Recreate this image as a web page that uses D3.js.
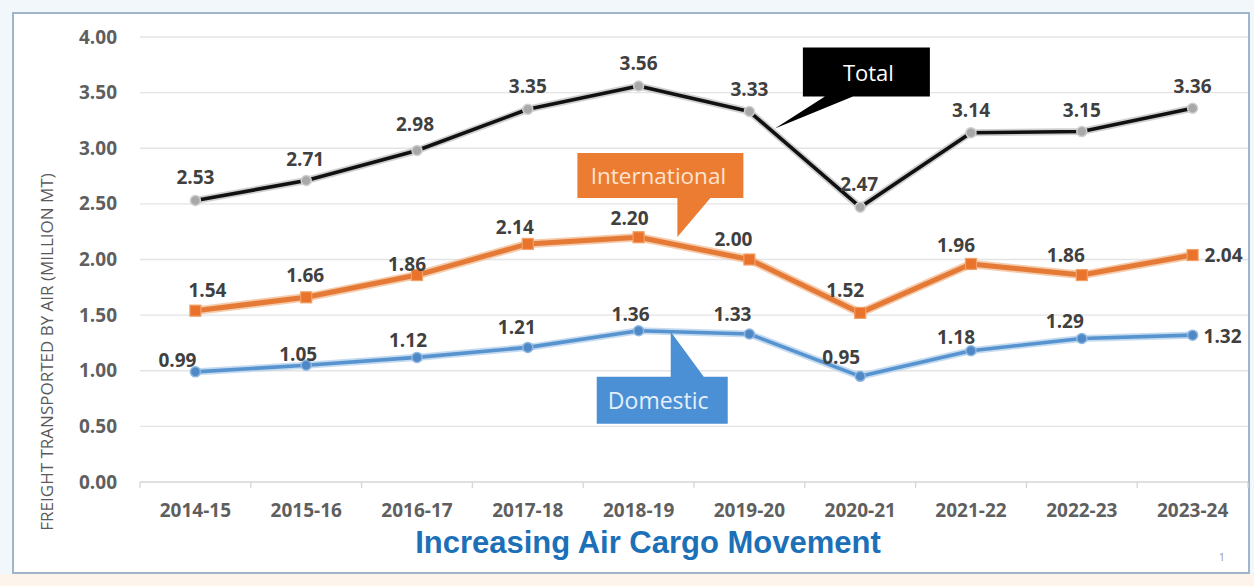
<!DOCTYPE html>
<html>
<head>
<meta charset="utf-8">
<script src="https://cdn.jsdelivr.net/npm/d3@7"></script>
<style>
  html, body { margin: 0; padding: 0; background: #f2f7fb; }
  svg { display: block; }
</style>
</head>
<body>
<svg id="chart" width="1254" height="586"></svg>
<script>
// ---- data ----
const categories = ["2014-15","2015-16","2016-17","2017-18","2018-19","2019-20","2020-21","2021-22","2022-23","2023-24"];
const totalValues = [2.53, 2.71, 2.98, 3.35, 3.56, 3.33, 2.47, 3.14, 3.15, 3.36];
const internationalValues = [1.54, 1.66, 1.86, 2.14, 2.20, 2.00, 1.52, 1.96, 1.86, 2.04];
const domesticValues = [0.99, 1.05, 1.12, 1.21, 1.36, 1.33, 0.95, 1.18, 1.29, 1.32];
const yTickValues = [0, 0.5, 1, 1.5, 2, 2.5, 3, 3.5, 4];
const seriesNames = ["Total", "International", "Domestic"];
const chartTitle = "Increasing Air Cargo Movement";
const yAxisTitle = "FREIGHT TRANSPORTED BY AIR (MILLION MT)";

// ---- layout / style (not data) ----
const labelOffsets = {
  Total: [[0,-24],[-1,-22],[-2,-26],[0,-23],[0,-23],[0,-23],[-1,-23],[0,-23],[0,-22],[0,-22]],
  International: [[12,-21],[-1,-22],[-10,-11],[-13,-17],[-9,-19],[-16,-21],[-15,-23],[-15,-19],[-16,-20],[31,0]],
  Domestic: [[-18,-12],[-8,-11],[-9,-17],[-11,-20],[-8,-17],[-17,-20],[-19,-19],[-15,-14],[-17,-17],[30,1]]
};

const svg = d3.select("#chart");
const W = 1254, H = 586;

// background
svg.append("rect").attr("x", 0).attr("y", 0).attr("width", W).attr("height", H).attr("fill", "#f2f7fb");
svg.append("rect").attr("x", 0).attr("y", 574).attr("width", W).attr("height", 12).attr("fill", "#fdf5ec");
svg.append("rect").attr("x", 13).attr("y", 13).attr("width", 1236).attr("height", 560)
  .attr("fill", "#ffffff").attr("stroke", "#9fb5ca").attr("stroke-width", 2);

const x = d3.scaleBand().domain(categories).range([140, 1248]).padding(0);
const y = d3.scaleLinear().domain([0, 4]).range([482, 37]);
const cx = c => x(c) + x.bandwidth() / 2;

// gridlines
svg.append("g").selectAll("line").data(yTickValues).join("line")
  .attr("x1", 140).attr("x2", 1248)
  .attr("y1", d => y(d)).attr("y2", d => y(d))
  .attr("stroke", d => d === 0 ? "#d6d6d6" : "#e4e4e4")
  .attr("stroke-width", 1.3);

// category boundary ticks
svg.append("g").selectAll("line").data(categories.concat([null])).join("line")
  .attr("x1", (d, i) => 140 + i * x.step()).attr("x2", (d, i) => 140 + i * x.step())
  .attr("y1", 482).attr("y2", 488)
  .attr("stroke", "#d6d6d6").attr("stroke-width", 1.3);

// y axis
const yAxis = svg.append("g").attr("transform", "translate(140,0)")
  .call(d3.axisLeft(y).tickValues(yTickValues).tickSize(0).tickPadding(23).tickFormat(d3.format(".2f")));
yAxis.select(".domain").remove();
yAxis.selectAll("text")
  .attr("font-family", "'Open Sans', sans-serif").attr("font-weight", "bold")
  .attr("font-size", 19).attr("fill", "#5f5f5f");

// x axis
const xAxis = svg.append("g").attr("transform", "translate(0,482)")
  .call(d3.axisBottom(x).tickSize(0).tickPadding(22));
xAxis.select(".domain").remove();
xAxis.selectAll("text")
  .attr("font-family", "'Open Sans', sans-serif").attr("font-weight", "bold")
  .attr("font-size", 19).attr("fill", "#5f5f5f");

// y axis title
svg.append("text")
  .attr("transform", "translate(53,352) rotate(-90)")
  .attr("text-anchor", "middle")
  .attr("font-family", "'Open Sans', sans-serif")
  .attr("font-size", 17).attr("fill", "#5a5a5a")
  .text(yAxisTitle);

// series
const series = [
  { name: seriesNames[0], values: totalValues, color: "#111111", halo: "#c4c4c4", width: 3.6, marker: "circle", mfill: "#a8a8a8", mstroke: "#cfcfcf" },
  { name: seriesNames[1], values: internationalValues, color: "#e57a36", halo: "#f3bf99", width: 5, marker: "square", mfill: "#e9732a", mstroke: "#f0a068" },
  { name: seriesNames[2], values: domesticValues, color: "#5793cf", halo: "#b7d2ec", width: 3.6, marker: "circle", mfill: "#4e88c6", mstroke: "#8fb7e0" }
];

const line = d3.line().x(d => cx(d.cat)).y(d => y(d.v));

series.forEach(s => {
  const pts = categories.map((c, i) => ({ cat: c, v: s.values[i], i }));
  const g = svg.append("g");
  g.append("path").datum(pts).attr("d", line).attr("fill", "none")
    .attr("stroke", s.halo).attr("stroke-width", s.width + 3.5).attr("stroke-linejoin", "round").attr("opacity", 0.8);
  g.append("path").datum(pts).attr("d", line).attr("fill", "none")
    .attr("stroke", s.color).attr("stroke-width", s.width).attr("stroke-linejoin", "round");
  if (s.marker === "circle") {
    g.selectAll("circle").data(pts).join("circle")
      .attr("cx", d => cx(d.cat)).attr("cy", d => y(d.v)).attr("r", 5)
      .attr("fill", s.mfill).attr("stroke", s.mstroke).attr("stroke-width", 1.5);
  } else {
    g.selectAll("rect").data(pts).join("rect")
      .attr("x", d => cx(d.cat) - 5.5).attr("y", d => y(d.v) - 5.5)
      .attr("width", 11).attr("height", 11)
      .attr("fill", s.mfill).attr("stroke", s.mstroke).attr("stroke-width", 1.2);
  }
  const offs = labelOffsets[s.name];
  g.selectAll("text").data(pts).join("text")
    .attr("x", d => cx(d.cat) + offs[d.i][0])
    .attr("y", d => y(d.v) + offs[d.i][1])
    .attr("text-anchor", d => d.i === categories.length - 1 && s.name !== "Total" ? "middle" : "middle")
    .attr("dominant-baseline", "central")
    .attr("font-family", "'Open Sans', sans-serif").attr("font-weight", "bold")
    .attr("font-size", 19).attr("fill", "#404040")
    .text(d => d3.format(".2f")(d.v));
});

// callouts, anchored on points along the lines
function along(vals, i, t) {
  const x0 = cx(categories[i]), x1 = cx(categories[i + 1]);
  const y0 = y(vals[i]), y1 = y(vals[i + 1]);
  return [x0 + (x1 - x0) * t, y0 + (y1 - y0) * t];
}

// Total callout
{
  const [tx, ty0] = along(totalValues, 5, 0.23);
  const ty = ty0 - 5;
  const L = tx + 28, R = tx + 155, T = ty - 81, B = ty - 32;
  const p = `M${L},${T}H${R}V${B}H${tx + 78}L${tx},${ty}L${tx + 50},${B}H${L}Z`;
  svg.append("path").attr("d", p).attr("fill", "#000000");
  svg.append("text").attr("x", (L + R) / 2 + 2).attr("y", (T + B) / 2)
    .attr("text-anchor", "middle").attr("dominant-baseline", "central")
    .attr("font-family", "'Open Sans', sans-serif").attr("font-size", 22).attr("fill", "#ffffff")
    .text(seriesNames[0]);
}
// International callout
{
  const [tx, ty0] = along(internationalValues, 4, 0.35);
  const ty = ty0 - 8;
  const L = tx - 100, R = tx + 66, T = ty - 84, B = ty - 39;
  const p = `M${L},${T}H${R}V${B}H${tx + 33}L${tx},${ty}V${B}H${L}Z`;
  svg.append("path").attr("d", p).attr("fill", "#ec7c31");
  svg.append("text").attr("x", (L + R) / 2 - 2).attr("y", (T + B) / 2)
    .attr("text-anchor", "middle").attr("dominant-baseline", "central")
    .attr("font-family", "'Open Sans', sans-serif").attr("font-size", 22.5).attr("fill", "#fde4d2")
    .text(seriesNames[1]);
}
// Domestic callout
{
  const [tx, ty] = along(domesticValues, 4, 0.29);
  const L = tx - 74, R = tx + 57, T = ty + 45, B = ty + 92;
  const p = `M${L},${T}H${tx}V${ty}L${tx + 33},${T}H${R}V${B}H${L}Z`;
  svg.append("path").attr("d", p).attr("fill", "#4b8fd4");
  svg.append("text").attr("x", (L + R) / 2 - 4).attr("y", (T + B) / 2)
    .attr("text-anchor", "middle").attr("dominant-baseline", "central")
    .attr("font-family", "'Open Sans', sans-serif").attr("font-size", 23).attr("fill", "#e3effa")
    .text(seriesNames[2]);
}

// title
svg.append("text").attr("x", 648).attr("y", 553)
  .attr("text-anchor", "middle")
  .attr("font-family", "'Liberation Sans', Arial, sans-serif").attr("font-weight", "bold")
  .attr("font-size", 31).attr("fill", "#1c70b8")
  .text(chartTitle);

// slide number
svg.append("text").attr("x", 1222).attr("y", 561)
  .attr("text-anchor", "middle")
  .attr("font-family", "'Open Sans', sans-serif").attr("font-size", 11).attr("fill", "#9a9a9a")
  .text("1");
</script>
</body>
</html>
